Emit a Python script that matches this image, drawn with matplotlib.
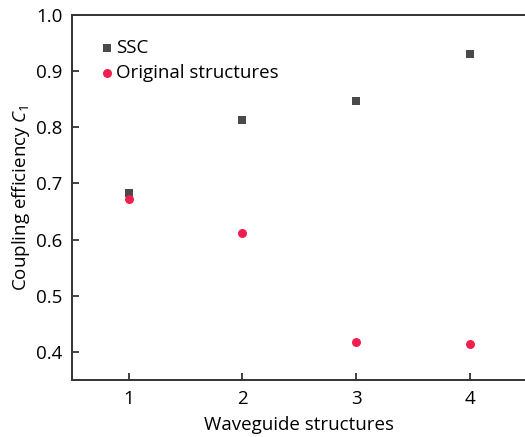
import matplotlib
matplotlib.use("Agg")
import matplotlib.pyplot as plt

structures = [1, 2, 3, 4]
ssc = [0.683, 0.813, 0.847, 0.930]
original = [0.673, 0.612, 0.418, 0.415]

FONT = "Open Sans"
plt.rcParams["font.family"] = [FONT, "DejaVu Sans"]
plt.rcParams["mathtext.fontset"] = "custom"
plt.rcParams["mathtext.rm"] = FONT
plt.rcParams["mathtext.it"] = f"{FONT}:italic"

fig = plt.figure(figsize=(5.25, 4.37), dpi=100)
ax = fig.add_axes([0.137, 0.130, 0.866, 0.836])

ax.scatter(structures, ssc, marker="s", s=36, color="#4a4a4a", lw=0, zorder=3, label="SSC")
ax.scatter(structures, original, marker="o", s=42, color="#ee1f4f", lw=0, zorder=4,
           label="Original structures")

ax.set_xlim(0.5, 4.5)
ax.set_ylim(0.35, 1.0)
ax.set_xticks(structures)
ax.set_yticks([0.4, 0.5, 0.6, 0.7, 0.8, 0.9, 1.0])
ax.set_yticklabels(["0.4", "0.5", "0.6", "0.7", "0.8", "0.9", "1.0"])
ax.tick_params(direction="in", length=5, width=1.2, labelsize=13.5, color="#222222", pad=7)
for side in ("left", "bottom", "top"):
    ax.spines[side].set_linewidth(1.4)
    ax.spines[side].set_color("#333333")
ax.spines["right"].set_visible(False)

ax.set_xlabel("Waveguide structures", fontsize=13.5, labelpad=6)
ax.set_ylabel(r"Coupling efficiency $\mathit{C}_1$", fontsize=13.5, labelpad=3)

ax.legend(loc="upper left", bbox_to_anchor=(0.04, 0.955), frameon=False, fontsize=13.5,
          handletextpad=0.0, handlelength=1.0, labelspacing=0.4, borderaxespad=0)

fig.savefig("out.png", dpi=100)
